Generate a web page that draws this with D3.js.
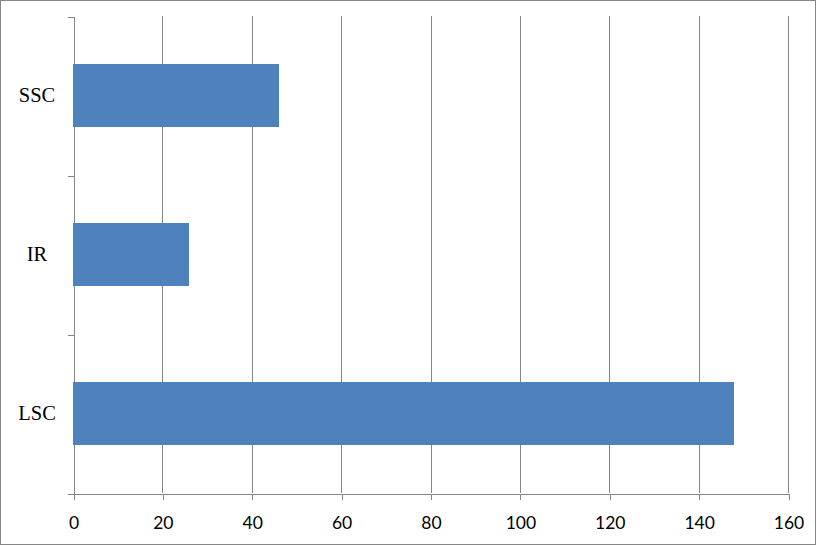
<!DOCTYPE html>
<html>
<head>
<meta charset="utf-8">
<script src="https://cdn.jsdelivr.net/npm/d3@7"></script>
<style>
  body { margin: 0; background: #fff; }
  svg { display: block; }
</style>
</head>
<body>
<div id="chart"></div>
<script>
// data
const categories = ["SSC", "IR", "LSC"];
const values = [46, 26, 148];
const xTicks = [0, 20, 40, 60, 80, 100, 120, 140, 160];

const W = 817, H = 546;
const plot = { left: 73, right: 788, top: 16, bottom: 493 };
const gray = "#868686";

const svg = d3.select("#chart").append("svg")
    .attr("width", W)
    .attr("height", H)
    .style("shape-rendering", "crispEdges");

// outer frame
svg.append("rect")
    .attr("x", 0.5).attr("y", 0.5)
    .attr("width", W - 2).attr("height", H - 2)
    .attr("fill", "#fff")
    .attr("stroke", gray);

const x = d3.scaleLinear().domain([0, 160]).range([plot.left, plot.right]);
const y = d3.scaleBand()
    .domain(categories)
    .range([plot.top, plot.bottom])
    .paddingInner(0.61)
    .paddingOuter(0.305);

// vertical gridlines
svg.append("g")
    .selectAll("line")
    .data(xTicks.slice(1))
    .join("line")
    .attr("x1", d => Math.round(x(d)) + 0.5)
    .attr("x2", d => Math.round(x(d)) + 0.5)
    .attr("y1", plot.top)
    .attr("y2", plot.bottom)
    .attr("stroke", gray);

// y axis: ticks at band boundaries
const yEdge = d3.scaleLinear().domain([0, categories.length]).range([plot.top, plot.bottom]);
const yAxis = svg.append("g")
    .attr("transform", `translate(${plot.left + 0.5},0.5)`)
    .call(d3.axisLeft(yEdge).tickValues(d3.range(categories.length + 1)).tickFormat("").tickSizeOuter(0).tickSize(6));
yAxis.select(".domain").attr("stroke", gray);
yAxis.selectAll(".tick line").attr("stroke", gray);

// bars
svg.append("g")
    .selectAll("rect")
    .data(categories)
    .join("rect")
    .attr("x", x(0))
    .attr("y", d => y(d))
    .attr("width", (d, i) => x(values[i]) - x(0))
    .attr("height", y.bandwidth())
    .attr("fill", "#4F81BD");

// x axis
const xAxis = svg.append("g")
    .attr("transform", `translate(0.5,${plot.bottom + 0.5})`)
    .call(d3.axisBottom(x).tickValues(xTicks).tickSizeOuter(0).tickSize(6).tickPadding(17));
xAxis.select(".domain").attr("stroke", gray);
xAxis.selectAll(".tick line").attr("stroke", gray);
xAxis.selectAll(".tick text")
    .attr("fill", "#000")
    .style("font-family", "Lato, 'Open Sans', sans-serif")
    .style("font-size", "17.5px");

// category labels
const yLab = svg.append("g")
    .attr("transform", `translate(${plot.left},0)`)
    .call(d3.axisLeft(y).tickSize(0).tickPadding(36));
yLab.select(".domain").remove();
yLab.selectAll(".tick text")
    .attr("fill", "#000")
    .attr("text-anchor", "middle")
    .style("font-family", "'Liberation Serif', 'Times New Roman', serif")
    .style("font-size", "20.5px");
</script>
</body>
</html>
